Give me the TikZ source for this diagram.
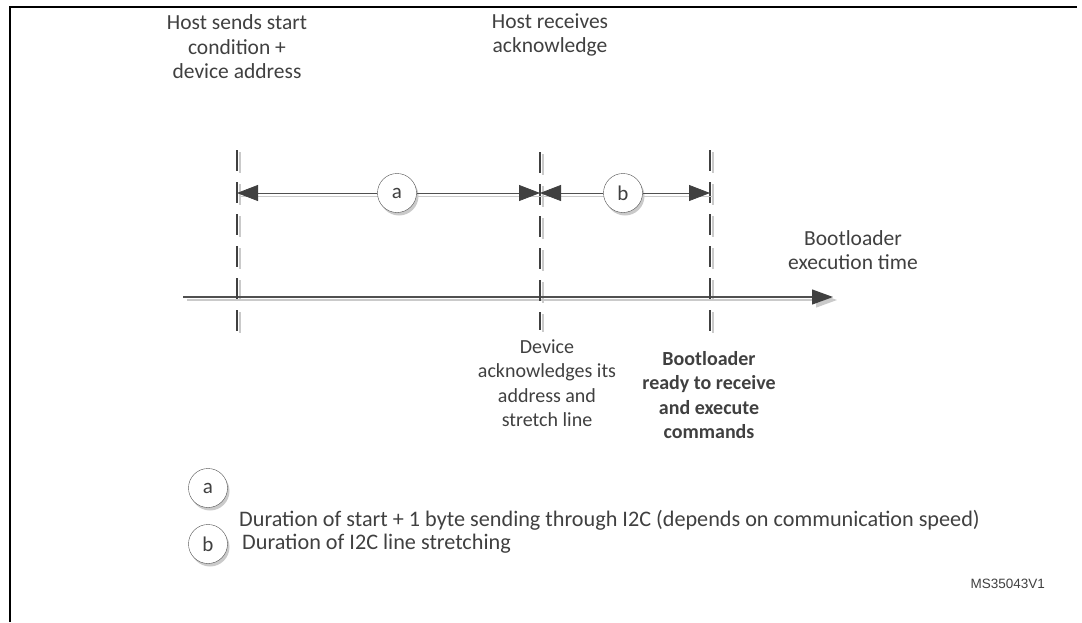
\documentclass[tikz,border=0pt]{standalone}
\usepackage{fontspec}
\setmainfont{Carlito}
\newfontfamily\arialfont{Liberation Sans}
\usetikzlibrary{arrows.meta}
\usetikzlibrary{shadows}
\definecolor{txtgray}{HTML}{404040}
\definecolor{linegray}{HTML}{505050}
\definecolor{shadowgray}{HTML}{CACACA}

\begin{document}
\begin{tikzpicture}[x=1pt,y=-1pt,
    lbl/.style={text=txtgray,font=\fontsize{20}{24.5}\selectfont,align=center,inner sep=0pt},
    biglbl/.style={lbl,font=\fontsize{21.5}{24.5}\selectfont},
    timemark/.style={draw=txtgray,line width=2.4pt,dash pattern=on 21pt off 11pt},
    markshadow/.style={draw=shadowgray,line width=2.2pt,dash pattern=on 21pt off 11pt},
    tag/.style={circle,draw=linegray,fill=white,minimum size=39pt,inner sep=0pt,
        text=txtgray,font=\fontsize{21}{24}\selectfont,
        drop shadow={shadow xshift=2pt,shadow yshift=-3pt,fill=shadowgray,opacity=1}},
    dimline/.style={draw=linegray,line width=0.8pt,
        -{Triangle[length=21pt,width=16pt,fill=txtgray,color=txtgray]}},
    dimshadow/.style={draw=shadowgray,line width=1pt}]
    \useasboundingbox (0,0) rectangle (1082,622);
    % frame
    \draw[line width=2pt] (10,622) -- (10,6.5) -- (1077,6.5);

    % time marks
    \coordinate (t1) at (237,150); \coordinate (b1) at (237,338);
    \coordinate (t2) at (540,152); \coordinate (b2) at (540,330);
    \coordinate (t3) at (710,150); \coordinate (b3) at (710,337);
    \draw[markshadow] ([shift={(3,2)}]t1) -- ([shift={(3,2)}]b1);
    \draw[markshadow,line width=1.4pt] ([shift={(3,2)}]t2) -- ([shift={(3,2)}]b2);
    \draw[markshadow] ([shift={(3,2)}]t3) -- ([shift={(3,2)}]b3);

    % time axis
    \coordinate (ax0) at (183,297);
    \coordinate (ax1) at (833,297);
    \draw[shadowgray,line width=1.2pt,-{Triangle[length=21pt,width=15pt,fill=shadowgray]}]
        ([shift={(4,3)}]ax0) -- ([shift={(4,3)}]ax1);
    \draw[linegray,line width=1.2pt,-{Triangle[length=21pt,width=15pt,fill=txtgray,color=txtgray]}]
        (ax0) -- (ax1);

    \draw[timemark] (t1) -- (b1);
    \draw[timemark,line width=1.4pt] (t2) -- (b2);
    \draw[timemark] (t3) -- (b3);

    % durations
    \coordinate (d1) at (237,193);
    \coordinate (d2) at (540,193);
    \coordinate (d3) at (710,193);
    \draw[dimshadow] ([shift={(4,3)}]d1) -- ([shift={(4,3)}]d2);
    \draw[dimshadow] ([shift={(4,3)}]d2) -- ([shift={(4,3)}]d3);
    \node[tag] (ca) at (397,193) {a};
    \node[tag] (cb) at (623,193) {b};
    \draw[dimline] (ca) -- (d1);
    \draw[dimline] (ca) -- (d2);
    \draw[dimline] (cb) -- (d2);
    \draw[dimline] (cb) -- (d3);

    % labels
    \node[biglbl] (hostsend) at (237,47) {Host sends start\\condition +\\device address};
    \node[biglbl] (hostack) at (550,35) {Host receives\\acknowledge};
    \node[biglbl] (exectime) at (853,250) {Bootloader\\execution time};
    \node[lbl] (devack) at (547,383) {Device\\acknowledges its\\address and\\stretch line};
    \node[lbl,font=\fontsize{20}{24.5}\selectfont\bfseries] (ready) at (709,395)
        {Bootloader\\ready to receive\\and execute\\commands};

    % legend
    \node[tag] (la) at (208,488) {a};
    \node[tag] (lb) at (208,544) {b};
    \node[lbl,anchor=west,font=\fontsize{22.2}{24}\selectfont] (ladesc) at (239,520)
        {Duration of start + 1 byte sending through I2C (depends on communication speed)};
    \node[lbl,anchor=west,font=\fontsize{22.2}{24}\selectfont] (lbdesc) at (242,544)
        {Duration of I2C line stretching};
    \node[anchor=east,text=txtgray,font=\arialfont\fontsize{13.5}{16}\selectfont,inner sep=0pt]
        (figid) at (1045,584) {MS35043V1};
\end{tikzpicture}
\end{document}
